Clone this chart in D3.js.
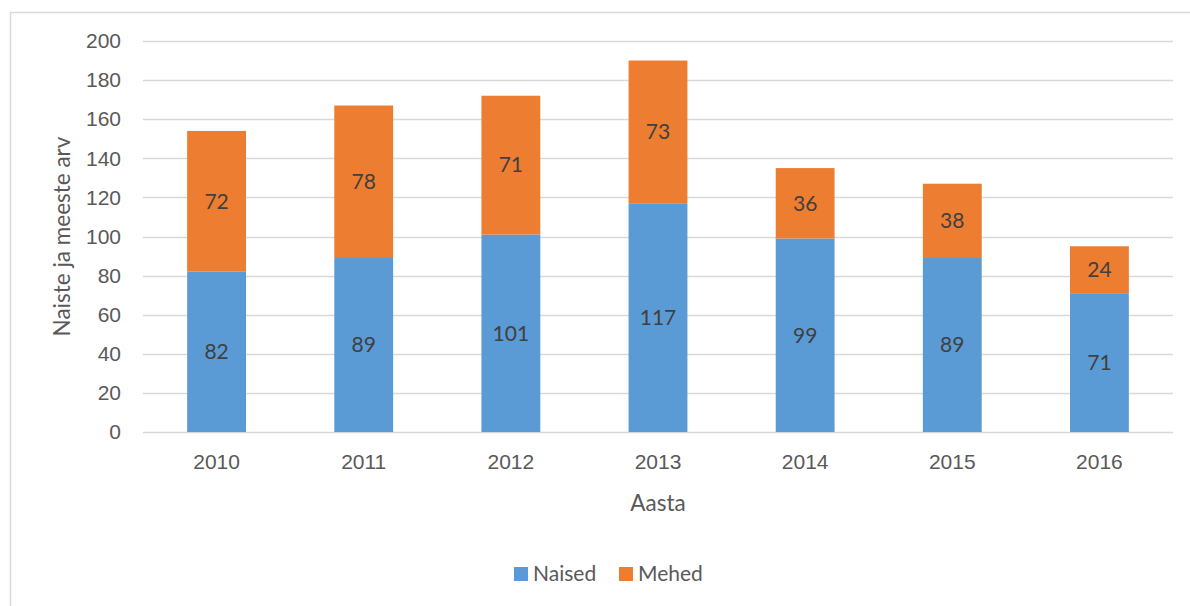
<!DOCTYPE html>
<html>
<head>
<meta charset="utf-8">
<script src="https://cdn.jsdelivr.net/npm/d3@7"></script>
<style>
  body { margin: 0; background: #fff; }
  svg { display: block; font-family: Lato, "Open Sans", sans-serif; }
</style>
</head>
<body>
<svg id="chart" width="1190" height="606"></svg>
<script>
// Data
const years = ['2010', '2011', '2012', '2013', '2014', '2015', '2016'];
const naised = [82, 89, 101, 117, 99, 89, 71];
const mehed = [72, 78, 71, 73, 36, 38, 24];
const seriesNames = ['Naised', 'Mehed'];
const yTicks = [0, 20, 40, 60, 80, 100, 120, 140, 160, 180, 200];

const colors = { Naised: '#5B9BD5', Mehed: '#ED7D31' };
const textColor = '#595959';
const labelColor = '#404040';

const translate = (x, y) => `translate(${x}, ${y})`;

const width = 1190, height = 606;
const margins = { top: 41, right: 17, bottom: 174, left: 143 };
const plotW = width - margins.left - margins.right;
const plotH = height - margins.top - margins.bottom;

const svg = d3.select('#chart');

// chart border (runs off the right/bottom edges)
svg.append('rect')
    .attr('x', 10.5).attr('y', 12.5)
    .attr('width', 1200).attr('height', 620)
    .attr('fill', 'none')
    .attr('stroke', '#D9D9D9')
    .attr('stroke-width', 1.5);

const rows = years.map((y, i) => ({ year: y, Naised: naised[i], Mehed: mehed[i] }));
const stacked = d3.stack().keys(seriesNames)(rows);

const x = d3.scaleBand()
    .domain(years)
    .range([0, plotW])
    .paddingInner(0.6)
    .paddingOuter(0.3);

const y = d3.scaleLinear()
    .domain([0, 200])
    .range([plotH, 0]);

const g = svg.append('g').attr('transform', translate(margins.left, margins.top));

// gridlines
g.append('g')
    .selectAll('line')
    .data(yTicks)
    .join('line')
    .attr('x1', 0).attr('x2', plotW)
    .attr('y1', d => Math.round(y(d)) + 0.5)
    .attr('y2', d => Math.round(y(d)) + 0.5)
    .attr('stroke', '#D9D9D9')
    .attr('stroke-width', 1.5);

// y axis
const yAxis = g.append('g')
    .call(d3.axisLeft(y).tickValues(yTicks).tickSize(0).tickPadding(22));
yAxis.select('.domain').remove();
yAxis.selectAll('text')
    .attr('fill', textColor)
    .style('font-size', '21px');

// x axis
const xAxis = g.append('g')
    .attr('transform', translate(0, plotH))
    .call(d3.axisBottom(x).tickSize(0).tickPadding(22));
xAxis.select('.domain').remove();
xAxis.selectAll('text')
    .attr('fill', textColor)
    .style('font-size', '21px');

// bars
const layers = g.selectAll('g.layer')
    .data(stacked)
    .join('g')
    .attr('class', 'layer')
    .attr('fill', d => colors[d.key]);

layers.selectAll('rect')
    .data(d => d)
    .join('rect')
    .attr('x', d => x(d.data.year))
    .attr('y', d => y(d[1]))
    .attr('width', x.bandwidth())
    .attr('height', d => y(d[0]) - y(d[1]));

// data labels
layers.selectAll('text')
    .data(d => d)
    .join('text')
    .attr('x', d => x(d.data.year) + x.bandwidth() / 2)
    .attr('y', d => (y(d[0]) + y(d[1])) / 2)
    .attr('dy', '0.35em')
    .attr('text-anchor', 'middle')
    .attr('fill', labelColor)
    .style('font-size', '21px')
    .text(d => d[1] - d[0]);

// axis titles
svg.append('text')
    .attr('transform', `${translate(62, margins.top + plotH / 2)} rotate(-90)`)
    .attr('text-anchor', 'middle')
    .attr('dy', '0.35em')
    .attr('fill', textColor)
    .style('font-size', '22.5px')
    .text('Naiste ja meeste arv');

svg.append('text')
    .attr('x', margins.left + plotW / 2)
    .attr('y', 503)
    .attr('dy', '0.35em')
    .attr('text-anchor', 'middle')
    .attr('fill', textColor)
    .style('font-size', '22.5px')
    .text('Aasta');

// legend
const legendItems = [
    { name: 'Naised', x: 514 },
    { name: 'Mehed', x: 619 },
];
const legend = svg.append('g').attr('transform', translate(0, 574));
legendItems.forEach(item => {
    legend.append('rect')
        .attr('x', item.x).attr('y', -7)
        .attr('width', 14).attr('height', 14)
        .attr('fill', colors[item.name]);
    legend.append('text')
        .attr('x', item.x + 19)
        .attr('y', 0)
        .attr('dy', '0.35em')
        .attr('fill', textColor)
        .style('font-size', '21px')
        .text(item.name);
});
</script>
</body>
</html>
